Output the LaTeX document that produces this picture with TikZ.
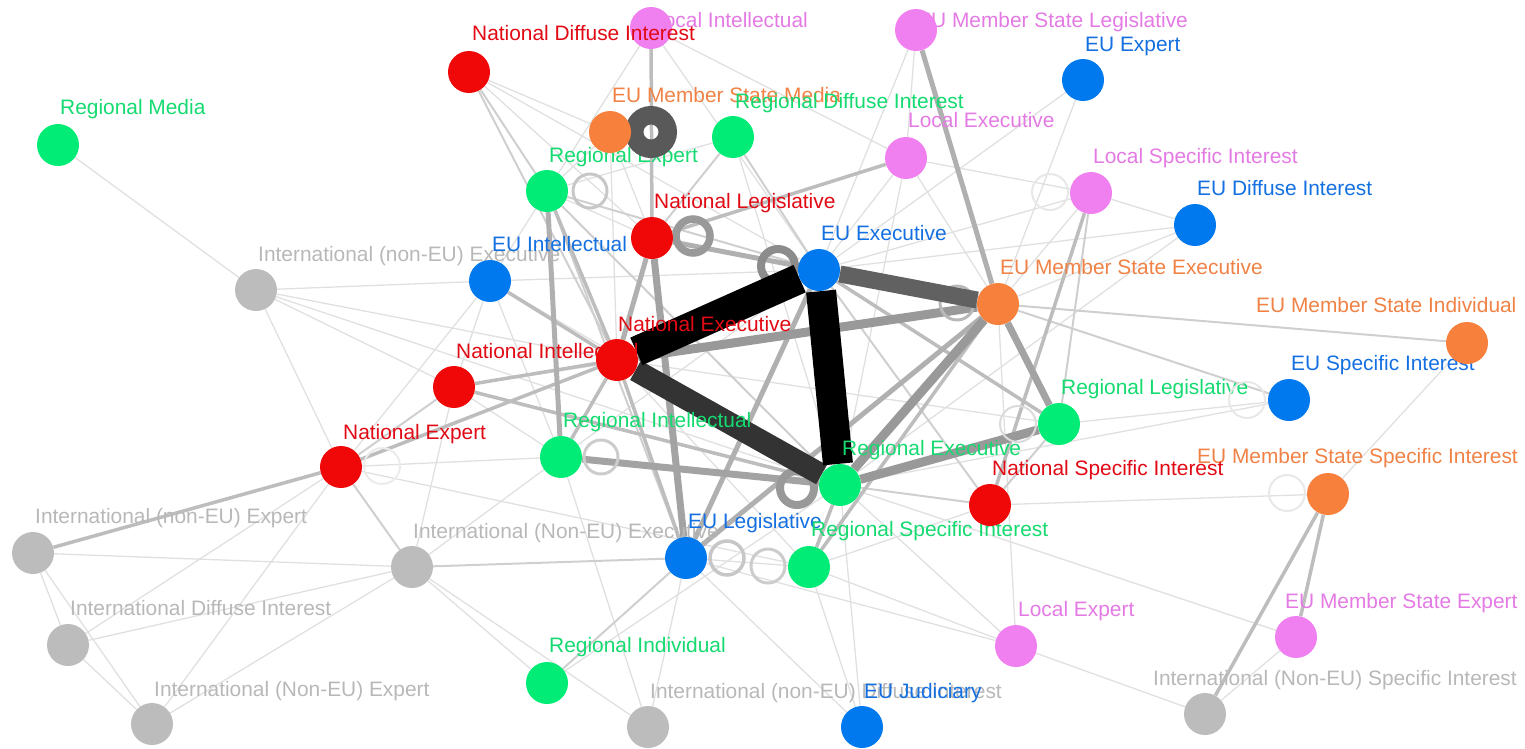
\documentclass[tikz,border=0pt]{standalone}
\usepackage{fontspec}
\setmainfont{Liberation Sans}
\definecolor{cred}{RGB}{240,8,8}
\definecolor{cgreen}{RGB}{0,236,118}
\definecolor{cblue}{RGB}{0,120,238}
\definecolor{cpink}{RGB}{240,128,240}
\definecolor{corange}{RGB}{246,128,60}
\definecolor{cgray}{RGB}{188,188,188}
\definecolor{tred}{RGB}{225,10,20}
\definecolor{tgreen}{RGB}{20,218,112}
\definecolor{tblue}{RGB}{20,112,225}
\definecolor{tpink}{RGB}{228,122,228}
\definecolor{torange}{RGB}{240,130,70}
\definecolor{tgray}{RGB}{184,184,184}
\begin{document}
\begin{tikzpicture}[x=1pt,y=-1pt,
  nd/.style={circle,inner sep=0pt,minimum size=42pt,draw=none},
  lb/.style={anchor=base west,inner sep=0pt,font=\fontsize{20.9}{25}\selectfont},
  e1/.style={draw=black!12,line width=1.3pt},
  e2/.style={draw=black!19,line width=2pt},
  e3/.style={draw=black!26,line width=3.5pt},
  e4/.style={draw=black!31,line width=5pt},
  e5/.style={draw=black!36,line width=7pt},
  e6/.style={draw=black!40,line width=9pt},
  e7/.style={draw=black!62,line width=17pt},
  e8/.style={draw=black!80,line width=22pt},
  e9/.style={draw=black,line width=30pt},
  ring/.style={fill=none}]
\useasboundingbox (0,0) rectangle (1525,748);

% node positions (filled later)
\path
 (58,145) node[nd] (rmed) {}
 (469,72) node[nd] (ndi) {}
 (651,28) node[nd] (lint) {}
 (916,30) node[nd] (msleg) {}
 (1083,80) node[nd] (euexp) {}
 (610,132) node[nd] (msmed) {}
 (733,137) node[nd] (rdi) {}
 (906,158) node[nd] (lexe) {}
 (547,191) node[nd] (rexp) {}
 (1091,193) node[nd] (lsi) {}
 (1195,225) node[nd] (eudi) {}
 (652,238) node[nd] (nleg) {}
 (819,270) node[nd] (euexe) {}
 (490,281) node[nd] (euint) {}
 (256,290) node[nd] (ixe) {}
 (998,304) node[nd] (msexe) {}
 (1467,343) node[nd] (msind) {}
 (617,360) node[nd] (nexe) {}
 (454,387) node[nd] (nint) {}
 (1289,400) node[nd] (eusi) {}
 (1059,424) node[nd] (rleg) {}
 (561,457) node[nd] (rint) {}
 (341,467) node[nd] (nexp) {}
 (840,485) node[nd] (rexe) {}
 (990,505) node[nd] (nsi) {}
 (1328,494) node[nd] (mssi) {}
 (33,553) node[nd] (ixp) {}
 (412,567) node[nd] (iXe) {}
 (686,558) node[nd] (euleg) {}
 (809,567) node[nd] (rsi) {}
 (1016,646) node[nd] (lexp) {}
 (1296,637) node[nd] (msexp) {}
 (68,645) node[nd] (idi) {}
 (547,683) node[nd] (rind) {}
 (152,724) node[nd] (iXp) {}
 (648,727) node[nd] (indi) {}
 (862,727) node[nd] (eujud) {}
 (1205,714) node[nd] (iXsi) {};

% edges
\foreach \a/\b in {rmed/ixe,ixe/euint,ixe/nexe,ixe/rexe,ixe/nexp,ixe/nint,
  ixp/iXe,ixp/idi,ixp/iXp,idi/iXe,idi/iXp,idi/nexp,iXp/iXe,iXp/nexp,
  nexp/rint,nexp/rsi,nexp/euint,nint/euint,nint/rint,nint/msexe,
  euint/euexe,euint/rexp,euint/rint,euint/rexe,rexp/nleg,rexp/lint,
  ndi/euexe,ndi/msmed,ndi/nleg,lint/euexe,lint/lexe,msmed/rexp,msmed/nexe,
  msmed/nleg,rdi/rexe,rdi/rexp,lexe/euexe,lexe/rexe,lexe/msexe,msleg/euexe,
  msleg/lexe,euexp/msexe,euexp/euexe,lsi/eudi,lsi/msexe,lsi/euexe,lsi/lexe,
  eudi/msexe,eudi/euexe,eudi/rexe,msind/mssi,eusi/rexe,eusi/rleg,nsi/mssi,
  nsi/rsi,msexp/rexe,msexp/iXsi,lexp/iXsi,lexp/rexe,lexp/euleg,lexp/rsi,
  lexp/msexe,euleg/eujud,euleg/indi,rsi/euleg,rsi/eujud,rsi/nexe,rind/rexe,
  rind/iXe,indi/rint,indi/iXe,eujud/rexe,iXe/nint,iXe/rint,rint/euexe,rleg/nexe}
  \draw[e1] (\a) -- (\b);
\foreach \a/\b in {rexp/ndi,ndi/nexe,msexe/msind,msexe/eusi,rleg/nsi,rleg/lsi,
  rdi/nleg,rdi/euexe,rexp/euleg,rexp/rexe,euleg/rind,euleg/iXe,rexe/nsi,
  nsi/euexe,nexp/iXe,nexp/nint,rexp/euexe}
  \draw[e2] (\a) -- (\b);
\foreach \a/\b in {ixp/nexp,nexp/nexe,lint/nleg,lexe/nleg,lsi/nsi,mssi/iXsi,
  mssi/msexp,euint/nexe,rexp/nexe,rint/nexe,rleg/euexe,rsi/rexe,rsi/msexe,
  euleg/nexe,nint/nexe,nint/rexe}
  \draw[e3] (\a) -- (\b);
\foreach \a/\b in {rexp/rint,msleg/msexe,euleg/euexe,euleg/msexe,nleg/nexe,nleg/euexe}
  \draw[e4] (\a) -- (\b);
\foreach \a/\b in {nleg/euleg,rint/rexe,msexe/rleg}
  \draw[e5] (\a) -- (\b);
\foreach \a/\b in {nexe/msexe,rexe/msexe,rexe/rleg}
  \draw[e6] (\a) -- (\b);

\draw[ring,black!45,line width=8pt] (778,266) circle[radius=17pt];
\draw[ring,black!40,line width=8pt] (797,488) circle[radius=17pt];
\draw[ring,black!40,line width=7.5pt] (693,236) circle[radius=17pt];
\draw[ring,black!28,line width=3pt] (957,303) circle[radius=17pt];
\draw[e7] (euexe) -- (msexe);
\draw[e8] (nexe) -- (rexe);
\draw[e9] (nexe) -- (euexe);
\draw[e9] (euexe) -- (rexe);

% labels
\node[lb,text=tgreen] (rmedL) at (60,114) {Regional Media};
\node[lb,text=tpink] (lintL) at (652,27) {Local Intellectual};
\node[lb,text=tpink] (mslegL) at (917,27) {EU Member State Legislative};
\node[lb,text=tblue] (euexpL) at (1085,51) {EU Expert};
\node[lb,text=torange] (msmedL) at (612,102) {EU Member State Media};
\node[lb,text=tgreen] (rdiL) at (735,108) {Regional Diffuse Interest};
\node[lb,text=tpink] (lexeL) at (908,127) {Local Executive};
\node[lb,text=tgreen] (rexpL) at (549,162) {Regional Expert};
\node[lb,text=tpink] (lsiL) at (1093,163) {Local Specific Interest};
\node[lb,text=tblue] (eudiL) at (1197,195) {EU Diffuse Interest};
\node[lb,text=tred] (nlegL) at (654,208) {National Legislative};
\node[lb,text=tblue] (euexeL) at (821,240) {EU Executive};
\node[lb,text=tgray] (ixeL) at (258,261) {International (non-EU) Executive};
\node[lb,text=tblue] (euintL) at (492,251) {EU Intellectual};
\node[lb,text=torange] (msexeL) at (1000,274) {EU Member State Executive};
\node[lb,text=torange] (msindL) at (1256,312) {EU Member State Individual};
\node[lb,text=tred] (nintL) at (456,358) {National Intellectual};
\node[lb,text=tred] (nexeL) at (618,331) {National Executive};
\node[lb,text=tblue] (eusiL) at (1291,370) {EU Specific Interest};
\node[lb,text=tgreen] (rlegL) at (1061,394) {Regional Legislative};
\node[lb,text=tgreen] (rintL) at (563,427) {Regional Intellectual};
\node[lb,text=tred] (nexpL) at (343,439) {National Expert};
\node[lb,text=tgreen] (rexeL) at (842,455) {Regional Executive};
\node[lb,text=torange] (mssiL) at (1197,463) {EU Member State Specific Interest};
\node[lb,text=tred] (nsiL) at (992,475) {National Specific Interest};
\node[lb,text=tgray] (ixpL) at (35,523) {International (non-EU) Expert};
\node[lb,text=tgray] (iXeL) at (413,538) {International (Non-EU) Executive};
\node[lb,text=tblue] (eulegL) at (688,528) {EU Legislative};
\node[lb,text=tgreen] (rsiL) at (811,536) {Regional Specific Interest};
\node[lb,text=tpink] (lexpL) at (1018,616) {Local Expert};
\node[lb,text=tpink] (msexpL) at (1285,608) {EU Member State Expert};
\node[lb,text=tgray] (idiL) at (70,615) {International Diffuse Interest};
\node[lb,text=tgreen] (rindL) at (549,652) {Regional Individual};
\node[lb,text=tgray] (iXpL) at (154,696) {International (Non-EU) Expert};
\node[lb,text=tgray] (indiL) at (650,698) {International (non-EU) Diffuse Interest};
\node[lb,text=tblue] (eujudL) at (864,698) {EU Judiciary};
\node[lb,text=tgray] (iXsiL) at (1153,685) {International (Non-EU) Specific Interest};

% light self-loops and the heavy one
\draw[ring,black!22,line width=3pt] (590,191) circle[radius=17pt];
\draw[ring,black!9,line width=2pt] (1050,192) circle[radius=18pt];
\draw[ring,black!14,line width=2pt] (1018,424) circle[radius=18pt];
\draw[ring,black!9,line width=2pt] (1247,400) circle[radius=18pt];
\draw[ring,black!20,line width=3pt] (601,457) circle[radius=17pt];
\draw[ring,black!8,line width=2pt] (382,466) circle[radius=18pt];
\draw[ring,black!22,line width=3.5pt] (727,558) circle[radius=17pt];
\draw[ring,black!20,line width=3pt] (768,566) circle[radius=17pt];
\draw[ring,black!9,line width=2pt] (1287,493) circle[radius=18pt];
\draw[ring,black!65,line width=18.5pt] (651,132) circle[radius=16.75pt];

% node fills
\foreach \n/\c in {rmed/cgreen,ndi/cred,lint/cpink,msleg/cpink,euexp/cblue,
  msmed/corange,rdi/cgreen,lexe/cpink,rexp/cgreen,lsi/cpink,eudi/cblue,
  nleg/cred,euexe/cblue,euint/cblue,ixe/cgray,msexe/corange,msind/corange,
  nexe/cred,nint/cred,eusi/cblue,rleg/cgreen,rint/cgreen,nexp/cred,
  rexe/cgreen,nsi/cred,mssi/corange,ixp/cgray,iXe/cgray,euleg/cblue,
  rsi/cgreen,lexp/cpink,msexp/cpink,idi/cgray,rind/cgreen,iXp/cgray,
  indi/cgray,eujud/cblue,iXsi/cgray}
  \fill[\c] (\n.center) circle[radius=21pt];

\node[lb,text=tred] (ndiL) at (472,40) {National Diffuse Interest};
\end{tikzpicture}
\end{document}
